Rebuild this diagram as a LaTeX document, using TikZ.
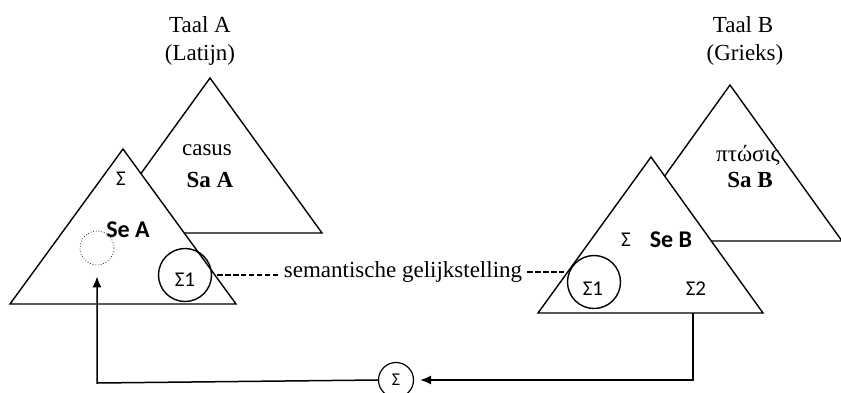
\documentclass[tikz,border=0pt]{standalone}
\usepackage{fontspec}
\setmainfont{Liberation Serif}
\newfontfamily\sansf{Carlito}
\usetikzlibrary{arrows.meta}
\tikzset{
  tri/.style={draw=black, fill=white, line width=1.4pt, line join=miter},
  serif/.style={font=\fontsize{23}{26}\selectfont, inner sep=0pt},
  serifb/.style={font=\fontsize{23}{26}\selectfont\bfseries, inner sep=0pt},
  sansl/.style={font=\sansf\fontsize{21}{24}\selectfont, inner sep=0pt},
  sansb/.style={font=\sansf\fontsize{24}{27}\selectfont\bfseries, inner sep=0pt},
  sigcirc/.style={circle, draw=black, line width=1.4pt, minimum size=53pt, inner sep=0pt},
  conn/.style={line width=1.5pt, -{Latex[length=11pt,width=9pt]}},
  eqdash/.style={line width=1.2pt, dash pattern=on 5.5pt off 2.4pt}
}
\begin{document}
\begin{tikzpicture}[x=1pt,y=-1pt]
\useasboundingbox (0,0) rectangle (841,392);
% headings
\node[serif] (taalA) at (200,25) {Taal A};
\node[serif] (latA) at (200,55) {(Latijn)};
\node[serif] (taalB) at (743,25) {Taal B};
\node[serif] (grB) at (745,55) {(Grieks)};
% triangles A
\draw[tri] (210,78) -- (322,233) -- (98,233) -- cycle;
\draw[tri] (123,149) -- (236,304) -- (10,304) -- cycle;
% triangles B
\draw[tri] (730,85) -- (842,241) -- (618,241) -- cycle;
\draw[tri] (651,157) -- (763,313) -- (538,313) -- cycle;
% texts A
\node[serif] (casus) at (207,150) {casus};
\node[serifb] (saA) at (210,180) {Sa A};
\node[sansl] (sigA) at (121,179) {Σ};
\node[sansb] (seA) at (128,230) {Se A};
\node[circle, draw=black, dotted, line width=0.7pt, minimum size=34pt, inner sep=0pt] (dotA) at (97,248) {};
\node[sigcirc] (s1A) at (185,275) {};
\node[sansl] (s1At) at (185,280) {Σ1};
% texts B
\node[serif] (ptosis) at (748,155) {πτώσις};
\node[serifb] (saB) at (750,180) {Sa B};
\node[sansl] (sigB) at (626,240) {Σ};
\node[sansb] (seB) at (671,240) {Se B};
\node[sigcirc] (s1B) at (594,282) {};
\node[sansl] (s1Bt) at (593,289) {Σ1};
\node[sansl] (s2B) at (696,289) {Σ2};
% semantic equation
\node[serif] (sem) at (403,272) {semantische gelijkstelling};
\draw[eqdash] ([xshift=5pt]s1A.east) -- ([xshift=-6pt]s1A.east -| sem.west);
\draw[eqdash] ([xshift=5pt]sem.east) -- (sem.east -| s1B.west);
% bottom sigma
\node[circle, draw=black, line width=1.2pt, minimum size=35pt, inner sep=0pt, font=\sansf\fontsize{18}{20}\selectfont] (sig) at (396,380) {\raisebox{-4pt}{Σ}};
\coordinate (outB) at (693,313);
\coordinate (cornR) at (693,380);
\coordinate (cornL) at (97,383);
\draw[conn, shorten >=6pt] (outB) -- (cornR) -- (sig.east);
\draw[conn, shorten >=11pt] (sig.west) -- (cornL) -- (dotA.south);
\end{tikzpicture}
\end{document}
